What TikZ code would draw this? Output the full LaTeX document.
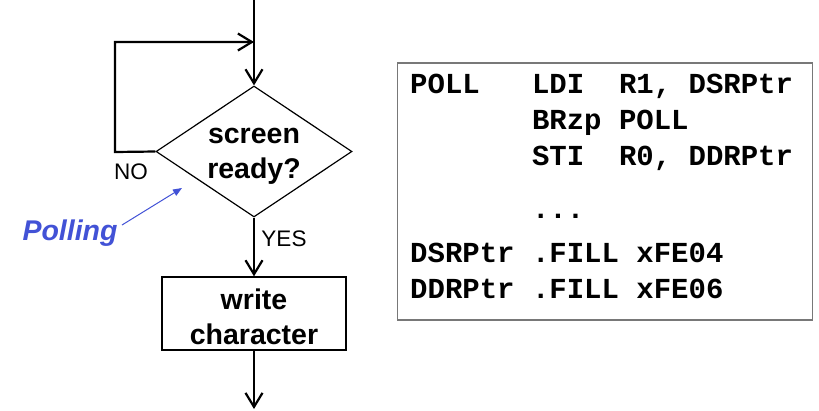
\documentclass[tikz,border=0pt]{standalone}
\usepackage{fontspec}
\setmainfont{Liberation Sans}
\newfontfamily\codefont{Liberation Mono}
\usetikzlibrary{arrows.meta,shapes.geometric}
\definecolor{pollblue}{RGB}{66,82,214}
\definecolor{boxgray}{RGB}{120,120,120}
\tikzset{
  flow/.style={line width=2.2pt,-{Straight Barb[length=14pt,width=17pt,line width=2.2pt]}},
  boldlbl/.style={font=\fontsize{28.5}{35}\selectfont\bfseries,align=center,inner sep=0pt},
  smalllbl/.style={font=\fontsize{22.5}{26}\selectfont,inner sep=0pt},
  codeline/.style={font=\codefont\fontsize{29}{34}\selectfont\bfseries,anchor=base west,inner sep=0pt},
}
\begin{document}
\begin{tikzpicture}[x=1pt,y=-1pt]
\useasboundingbox (0,0) rectangle (819,410);
% flowchart
\node[diamond,draw,line width=1.2pt,minimum width=196pt,minimum height=131pt,inner sep=0pt] (dia) at (254,151.5) {};
\node[boldlbl] (diatxt) at (254,156) {screen\\ready?};
\node[draw,line width=1.3pt,minimum width=184pt,minimum height=73pt,inner sep=0pt] (wbox) at (254,313.5) {};
\node[boldlbl] (wtxt) at (254,317) {write\\character};
\coordinate (topin) at (254,0);
\coordinate (merge) at (254,42);
\coordinate (loopa) at (115,152);
\coordinate (loopb) at (115,42);
\coordinate (outend) at (254,409);
\draw[flow] (topin) -- (dia.north);
\draw[flow] (dia.west) -- (loopa) -- (loopb) -- (merge);
\draw[flow] (dia.south) -- (wbox.north);
\draw[flow] (wbox.south) -- (outend);
\node[smalllbl] (no) at (131,172) {NO};
\node[smalllbl] (yes) at (284,239) {YES};
\node[font=\fontsize{28.5}{34}\selectfont\bfseries\itshape,text=pollblue,inner sep=0pt] (poll) at (70,233) {Polling};
\coordinate (polltip) at (182,188);
\coordinate (pollstart) at (122,225);
\draw[pollblue,line width=1pt,-{Triangle[length=9pt,width=7pt]}] (pollstart) -- (polltip);
% code box
\node[draw=boxgray,line width=1.3pt,minimum width=415pt,minimum height=257pt,inner sep=0pt] (codebox) at (605,191.5) {};
\node[codeline] (c1) at (410,93) {POLL~~~LDI~~R1,~DSRPtr};
\node[codeline] (c2) at (410,129) {~~~~~~~BRzp~POLL};
\node[codeline] (c3) at (410,165) {~~~~~~~STI~~R0,~DDRPtr};
\node[codeline] (c4) at (410,218) {~~~~~~~...};
\node[codeline] (c5) at (410,262) {DSRPtr~.FILL~xFE04};
\node[codeline] (c6) at (410,298) {DDRPtr~.FILL~xFE06};
\end{tikzpicture}
\end{document}
